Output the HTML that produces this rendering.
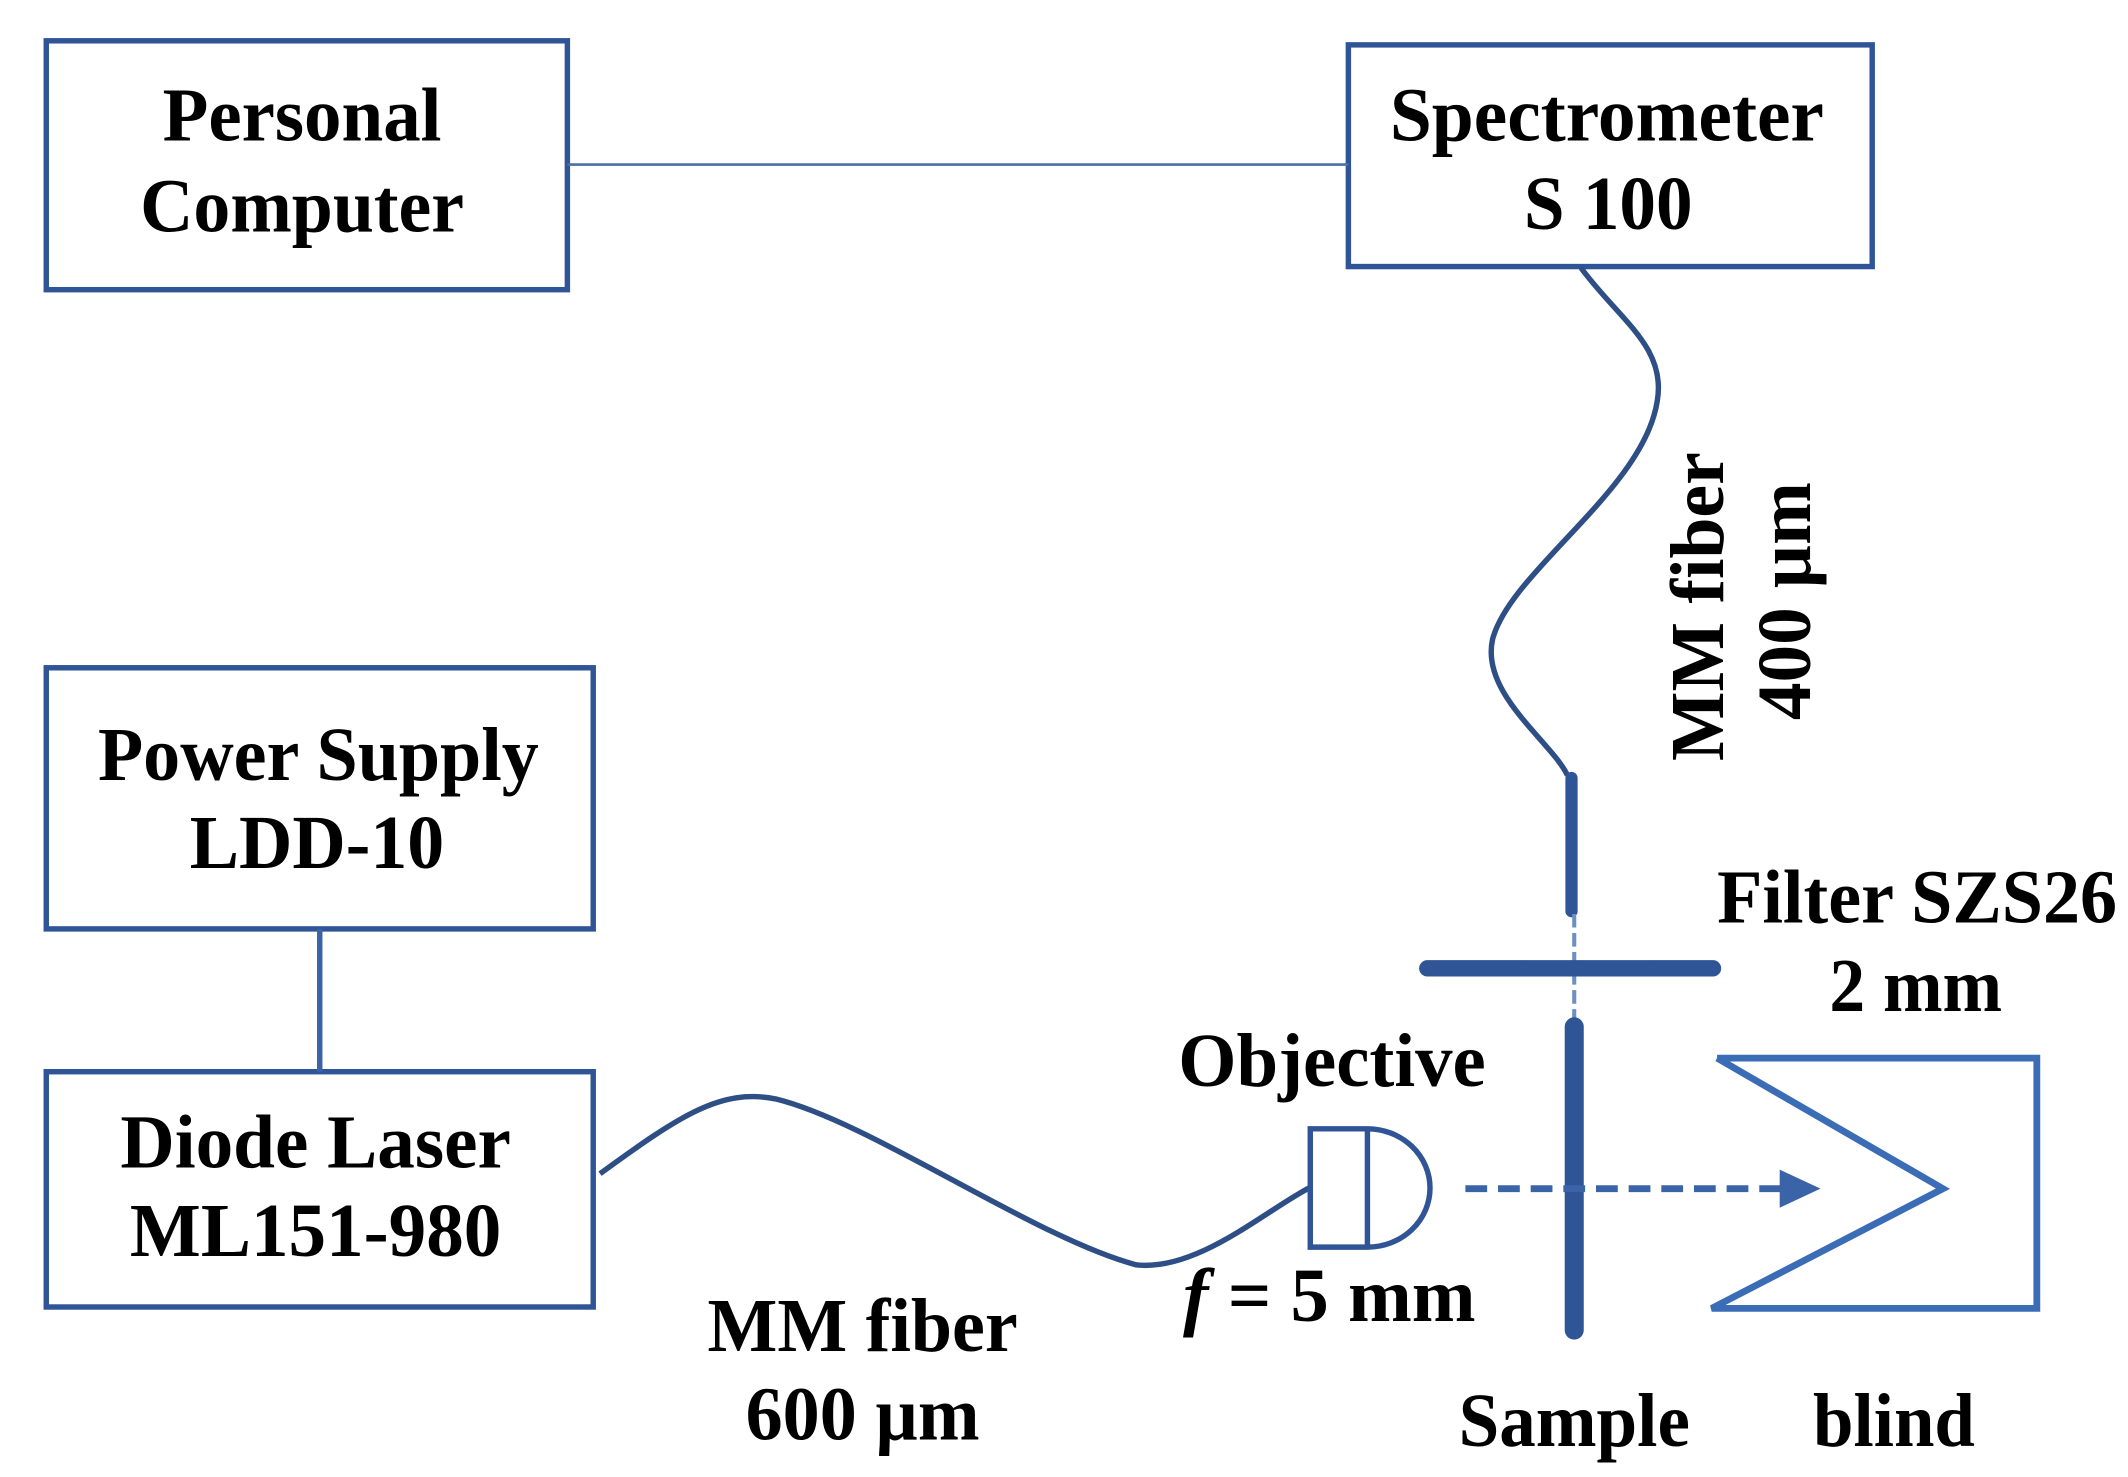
<!DOCTYPE html>
<html><head><meta charset="utf-8"><style>
html,body{margin:0;padding:0;background:#fff;}
svg{display:block;}
text{font-family:"Liberation Serif",serif;font-weight:bold;font-size:56px;fill:#000;}
</style></head><body>
<svg width="2128" height="1477" viewBox="0 0 1564 1086" preserveAspectRatio="none" xmlns="http://www.w3.org/2000/svg">
<g fill="none" stroke="#2f5597" stroke-width="4">
<rect x="34" y="30" width="383" height="183"/>
<rect x="991" y="33" width="385" height="163"/>
<rect x="34" y="491" width="402" height="192"/>
<rect x="34" y="788" width="402" height="173"/>
</g>
<line x1="417" y1="121" x2="991" y2="121" stroke="#4a6fa5" stroke-width="2"/>
<line x1="235" y1="683" x2="235" y2="788" stroke="#3a63a8" stroke-width="4"/>
<path d="M1162,197 C1190,235 1225,255 1218,295 C1208,360 1110,420 1097,470 C1088,510 1140,545 1152,570" fill="none" stroke="#2e4f85" stroke-width="4"/>
<line x1="1155" y1="572" x2="1155" y2="670" stroke="#2f5597" stroke-width="9" stroke-linecap="round"/>
<line x1="1157" y1="672" x2="1157" y2="752" stroke="#6d8fc4" stroke-width="3" stroke-dasharray="10,4"/>
<line x1="1049" y1="712" x2="1259" y2="712" stroke="#2f5597" stroke-width="12" stroke-linecap="round"/>
<line x1="1157" y1="755" x2="1157" y2="978" stroke="#2f5597" stroke-width="14" stroke-linecap="round"/>
<path d="M441,863 C500,820 530,800 570,808 C640,825 760,910 835,930 C880,935 930,890 963,873" fill="none" stroke="#2e4f85" stroke-width="4"/>
<path d="M963,830 L1005,830 A46,43.5 0 0 1 1005,917 L963,917 Z M1005,830 L1005,917" fill="none" stroke="#2f5597" stroke-width="4"/>
<line x1="1077" y1="874" x2="1310" y2="874" stroke="#3a63a8" stroke-width="5" stroke-dasharray="16,8"/>
<polygon points="1308,860 1338,874 1308,888" fill="#3a63a8"/>
<polyline points="1262,778 1497,778 1497,962 1258,962 1428,874 1262,778" fill="none" stroke="#3a6db5" stroke-width="5"/>
<g text-anchor="middle" dominant-baseline="central" lengthAdjust="spacingAndGlyphs">
<text x="222" y="85" textLength="205" lengthAdjust="spacingAndGlyphs">Personal</text>
<text x="222" y="152" textLength="238" lengthAdjust="spacingAndGlyphs">Computer</text>
<text x="1181" y="85" textLength="319" lengthAdjust="spacingAndGlyphs">Spectrometer</text>
<text x="1182" y="150" textLength="124" lengthAdjust="spacingAndGlyphs">S 100</text>
<text x="234" y="555" textLength="324" lengthAdjust="spacingAndGlyphs">Power Supply</text>
<text x="233" y="620" textLength="187" lengthAdjust="spacingAndGlyphs">LDD-10</text>
<text x="232" y="840" textLength="287" lengthAdjust="spacingAndGlyphs">Diode Laser</text>
<text x="232" y="905" textLength="273" lengthAdjust="spacingAndGlyphs">ML151-980</text>
<text x="634" y="975" textLength="228" lengthAdjust="spacingAndGlyphs">MM fiber</text>
<text x="634" y="1040" textLength="172" lengthAdjust="spacingAndGlyphs">600 µm</text>
<text x="979" y="780" textLength="226" lengthAdjust="spacingAndGlyphs">Objective</text>
<text x="977" y="953" textLength="215" lengthAdjust="spacingAndGlyphs"><tspan font-style="italic">f</tspan> = 5 mm</text>
<text x="1157" y="1045" textLength="170" lengthAdjust="spacingAndGlyphs">Sample</text>
<text x="1392" y="1045" textLength="119" lengthAdjust="spacingAndGlyphs">blind</text>
<text x="1409" y="660" textLength="294" lengthAdjust="spacingAndGlyphs">Filter SZS26</text>
<text x="1408" y="725" textLength="127" lengthAdjust="spacingAndGlyphs">2 mm</text>
<text x="1248" y="446" transform="rotate(-90 1248 446)" textLength="227" lengthAdjust="spacingAndGlyphs">MM fiber</text>
<text x="1312" y="442" transform="rotate(-90 1312 442)" textLength="175" lengthAdjust="spacingAndGlyphs">400 µm</text>
</g>
</svg>
</body></html>
